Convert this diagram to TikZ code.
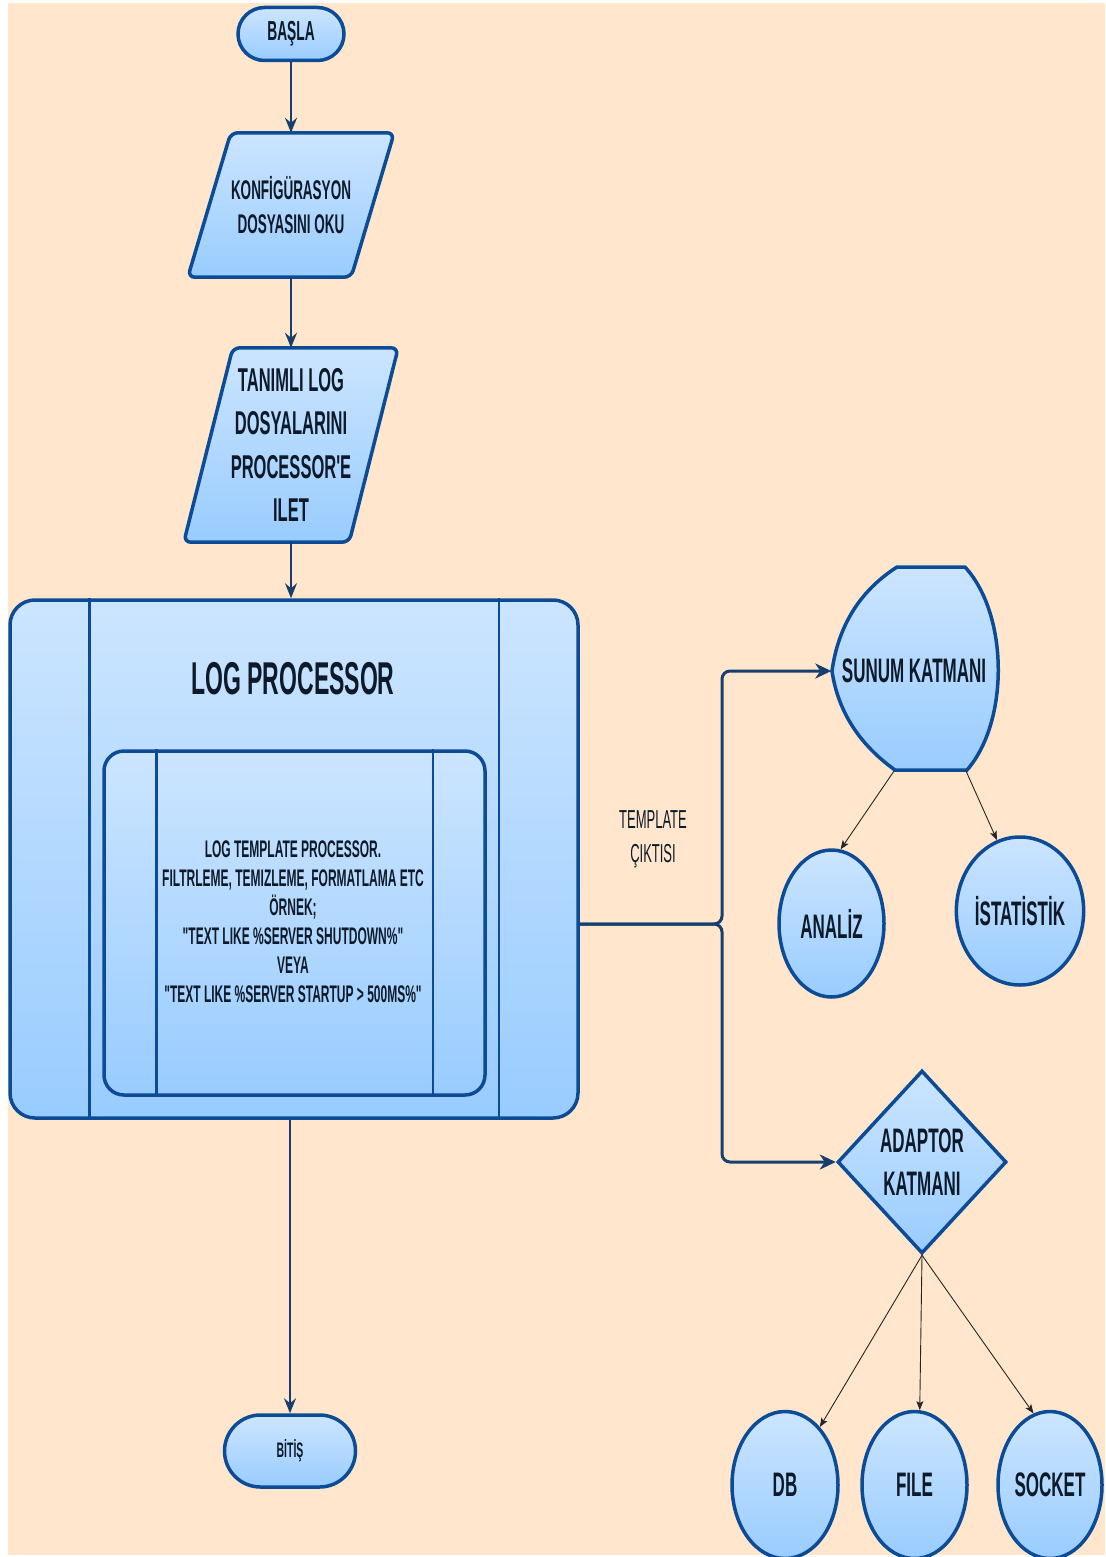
\documentclass[tikz,border=0pt]{standalone}
\usepackage{fontspec}
\newfontfamily\dfont{Liberation Sans}[FakeStretch=0.5]
\usetikzlibrary{shapes.geometric,arrows.meta,calc}
\definecolor{bgC}{HTML}{FFE6CC}
\definecolor{fillT}{HTML}{CCE5FF}
\definecolor{fillB}{HTML}{99CCFF}
\definecolor{strokeC}{HTML}{0C4C96}
\definecolor{lineC}{HTML}{173F6D}
\definecolor{textC}{HTML}{0E1A2A}
\pgfdeclarelayer{bglayer}
\pgfdeclarelayer{shapelayer}
\pgfsetlayers{bglayer,shapelayer,main}
\newcommand\fsz[2]{\fontsize{#1}{#2}\selectfont}
\tikzset{
  shp/.style={draw=strokeC, line width=3.5pt, top color=fillT, bottom color=fillB},
  txt/.style={text=textC, align=center, inner sep=0pt},
  divline/.style={draw=strokeC, line width=2.5pt},
  mainarrow/.style={draw=lineC, line width=2pt, -{Stealth[length=15pt,width=12pt,inset=5pt]}},
  brancharrow/.style={draw=lineC, line width=3pt, rounded corners=8pt, -{Stealth[length=16pt,width=15pt,inset=5pt]}},
  thinarrow/.style={draw=black!85, line width=0.9pt, -{Stealth[length=9pt,width=7pt,inset=2pt]}},
}
\begin{document}
\begin{tikzpicture}[x=1pt,y=-1pt]
\useasboundingbox (0,0) rectangle (1105,1557);
\begin{pgfonlayer}{bglayer}
\fill[white] (0,0) rectangle (1105,1557);
\fill[bgC] (8,3) rectangle (1105,1555);
\end{pgfonlayer}

% start
\node[shp, txt, rounded corners=26.5pt, minimum width=106pt, minimum height=53pt,
      font=\dfont\bfseries\fsz{27.5}{32}] (start) at (291,34) {BAŞLA};

% parallelograms (text nodes; shapes drawn behind)
\node[txt, minimum width=206pt, minimum height=144pt, font=\dfont\bfseries\fsz{27}{34}]
  (konf) at (291,205) {KONFİGÜRASYON\\DOSYASINI OKU};
\node[txt, minimum width=214pt, minimum height=194pt, font=\dfont\bfseries\fsz{33}{43.5}]
  (tanimli) at (291,445) {TANIMLI LOG\\DOSYALARINI\\PROCESSOR'E\\ILET};
\begin{pgfonlayer}{shapelayer}
\path[shp, rounded corners=7pt] ([xshift=43pt]konf.north west) -- (konf.north east)
  -- ([xshift=-43pt]konf.south east) -- (konf.south west) -- cycle;
\path[shp, rounded corners=7pt] ([xshift=49pt]tanimli.north west) -- (tanimli.north east)
  -- ([xshift=-49pt]tanimli.south east) -- (tanimli.south west) -- cycle;
\end{pgfonlayer}

% log processor
\node[shp, rounded corners=25pt, minimum width=568pt, minimum height=518pt] (LP) at (294,859) {};
\draw[divline] ([xshift=81pt]LP.north west) -- ([xshift=81pt]LP.south west);
\draw[divline] ([xshift=-81pt]LP.north east) -- ([xshift=-81pt]LP.south east);
\node[txt, font=\dfont\bfseries\fsz{46}{54}] (lptitle) at (293,679) {LOG PROCESSOR};
\node[shp, rounded corners=20pt, minimum width=381pt, minimum height=344pt] (lpinner) at (294.5,923) {};
\draw[divline] ([xshift=54pt]lpinner.north west) -- ([xshift=54pt]lpinner.south west);
\draw[divline] ([xshift=-54pt]lpinner.north east) -- ([xshift=-54pt]lpinner.south east);
\node[txt, font=\dfont\bfseries\fsz{24}{29}] (lptext) at (293,922)
  {LOG TEMPLATE PROCESSOR.\\FILTRLEME, TEMIZLEME, FORMATLAMA ETC\\ÖRNEK;\\"TEXT LIKE \%SERVER SHUTDOWN\%"\\VEYA\\"TEXT LIKE \%SERVER STARTUP > 500MS\%"};

% end
\node[shp, txt, rounded corners=36pt, minimum width=131pt, minimum height=72pt,
      font=\dfont\bfseries\fsz{21}{26}] (bitis) at (290,1451) {BİTİŞ};

% sunum katmani (display shape)
\node[txt, minimum width=165pt, minimum height=203pt, font=\dfont\bfseries\fsz{34}{40}]
  (sunum) at (914,671) {SUNUM KATMANI};
\begin{pgfonlayer}{shapelayer}
\path[shp] (897,567) -- (965,567) .. controls (1009,615) and (1009,722) .. (967,770)
  -- (895,770) .. controls (860,745) and (838,712) .. (832,671)
  .. controls (838,628) and (858,592) .. (897,567) -- cycle;
\end{pgfonlayer}
\coordinate (sunumBL) at (894,771);
\coordinate (sunumBR) at (966,771);

\node[shp, txt, ellipse, minimum width=105pt, minimum height=147pt, font=\dfont\bfseries\fsz{34}{40}]
  (analiz) at (831.5,923.5) {ANALİZ};
\node[shp, txt, ellipse, minimum width=104pt, minimum height=148pt, font=\dfont\bfseries\fsz{34}{40}]
  (istat) at (1020,911) {İSTATİSTİK};

\node[shp, txt, diamond, minimum width=169pt, minimum height=183pt, font=\dfont\bfseries\fsz{34}{43}]
  (adaptor) at (922,1162) {ADAPTOR\\KATMANI};

\node[shp, txt, ellipse, minimum width=106pt, minimum height=147pt, font=\dfont\bfseries\fsz{34}{40}]
  (db) at (785,1485) {DB};
\node[shp, txt, ellipse, minimum width=105pt, minimum height=147pt, font=\dfont\bfseries\fsz{34}{40}]
  (file) at (914.5,1485) {FILE};
\node[shp, txt, ellipse, minimum width=104pt, minimum height=147pt, font=\dfont\bfseries\fsz{34}{40}]
  (socket) at (1050,1485) {SOCKET};

% label
\coordinate (branch) at (722,924);
\node[txt, font=\dfont\fsz{26}{34}] (tmpl) at (653,839) {TEMPLATE\\ÇIKTISI};

% connectors
\draw[mainarrow] (start.south) -- (konf.north);
\draw[mainarrow] (konf.south) -- (tanimli.north);
\draw[mainarrow] (tanimli.south) -- (tanimli.south |- LP.north);
\draw[mainarrow] (bitis.north |- LP.south) -- (bitis.north);
\draw[brancharrow] (LP.east |- branch) -- (branch) |- (sunum.west);
\draw[brancharrow] (LP.east |- branch) -- (branch) |- (adaptor.west);
\draw[thinarrow] (sunumBL) -- (analiz.83);
\draw[thinarrow] (sunumBR) -- (istat.108);
\draw[thinarrow] (adaptor.south) -- (db.59);
\draw[thinarrow] (adaptor.south) -- (file.86);
\draw[thinarrow] (adaptor.south) -- (socket.103);
\end{tikzpicture}
\end{document}
